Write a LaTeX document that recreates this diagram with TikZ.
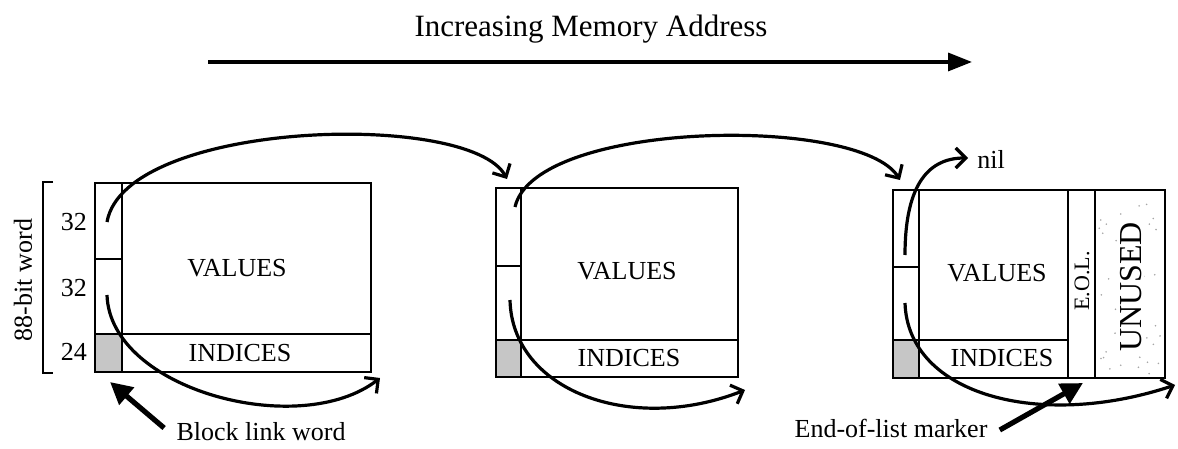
\documentclass[tikz,border=0pt]{standalone}
\usepackage{fontspec}
\setmainfont{Liberation Serif}
\usetikzlibrary{arrows.meta}
\begin{document}
\begin{tikzpicture}[x=0.5pt,y=-0.5pt,
  wall/.style={line width=1.3pt},
  stipple/.style={fill=gray!45},
  link/.style={line width=1.6pt,
    -{Straight Barb[length=5pt,width=10pt,line width=1.6pt]}},
  pointer/.style={line width=2.6pt, -{Triangle[length=11pt,width=11pt]}},
  lbl/.style={font=\fontsize{13}{15}\selectfont, inner sep=0pt},
  title/.style={font=\fontsize{15.5}{18}\selectfont, inner sep=0pt}]
\useasboundingbox (0,0) rectangle (1178,449);

% address direction
\node[title] (ttl) at (591,29) {Increasing Memory Address};
\coordinate (addrA) at (208,62);
\coordinate (addrB) at (972,62);
\draw[line width=1.7pt, -{Triangle[length=12pt,width=9pt]}] (addrA) -- (addrB);

% ---------- block 1 ----------
\fill[stipple] (95,334) rectangle (122,372);
\draw[wall] (95,183) rectangle (371,372);
\draw[wall] (122,183) -- (122,372);
\draw[wall] (95,259) -- (122,259);
\draw[wall] (95,334) -- (371,334);
\node[lbl] (v1) at (237,268) {VALUES};
\node[lbl] (i1) at (240,353) {INDICES};

% word size bracket
\draw[line width=1.3pt] (53,182) -- (43,182) -- (43,373) -- (53,373);
\node[lbl] (s1) at (74,222) {32};
\node[lbl] (s2) at (74,288) {32};
\node[lbl] (s3) at (74,352) {24};
\node[lbl, rotate=90] (w88) at (23,280) {88-bit word};

% ---------- block 2 ----------
\fill[stipple] (496,340) rectangle (521,377);
\draw[wall] (496,188) rectangle (738,377);
\draw[wall] (521,188) -- (521,377);
\draw[wall] (496,266) -- (521,266);
\draw[wall] (496,340) -- (738,340);
\node[lbl] (v2) at (627,271) {VALUES};
\node[lbl] (i2) at (629,358) {INDICES};

% ---------- block 3 ----------
\fill[stipple] (893,340) rectangle (919,378);
% sparse speckle over the unused tail
\pgfmathsetseed{7}
\foreach \k in {1,...,45}{
  \pgfmathsetmacro\dx{1099+62*rnd}
  \pgfmathsetmacro\dy{194+180*rnd}
  \fill[gray!70] (\dx,\dy) circle (0.45pt);
}
\draw[wall] (893,190) rectangle (1165,378);
\draw[wall] (919,190) -- (919,378);
\draw[wall] (893,267) -- (919,267);
\draw[wall] (893,340) -- (1068,340);
\draw[wall] (1068,190) -- (1068,378);
\draw[wall] (1095,190) -- (1095,378);
\node[lbl] (v3) at (997,273) {VALUES};
\node[lbl] (i3) at (1002,358) {INDICES};
\node[lbl, rotate=90, font=\fontsize{11}{13}\selectfont] (eol) at (1082,281) {E.O.L.};
\node[lbl, rotate=90, font=\fontsize{16}{18}\selectfont, fill=white, inner sep=1pt] (unu) at (1131,287) {UNUSED};

% ---------- block links ----------
\coordinate (b1hi) at (107,222);
\coordinate (b1lo) at (107,295);
\coordinate (b2hi) at (515,207);
\coordinate (b2lo) at (510,300);
\coordinate (b3hi) at (905,255);
\coordinate (b3lo) at (905,303);
\coordinate (b2in) at (507,179);
\coordinate (b3in) at (900,180);
\coordinate (b1out) at (380,378);
\coordinate (b2out) at (745,390);
\coordinate (b3out) at (1175,385);
\node[lbl, anchor=west] (nil) at (977,159) {nil};
\coordinate (nilin) at (968,158);

\draw[link] (b1hi) .. controls (125,120) and (470,110) .. (b2in);
\draw[link] (b2hi) .. controls (535,120) and (860,115) .. (b3in);
\draw[link] (b3hi) .. controls (905,190) and (925,158) .. (nilin);
\draw[link] (b1lo) .. controls (110,390) and (300,440) .. (b1out);
\draw[link] (b2lo) .. controls (512,390) and (630,435) .. (b2out);
\draw[link] (b3lo) .. controls (908,395) and (1040,430) .. (b3out);

% ---------- callouts ----------
\node[lbl] (blw) at (261,432) {Block link word};
\node[lbl] (eom) at (891,428) {End-of-list marker};
\coordinate (blwtip) at (110,382);
\coordinate (eomtip) at (1083,383);
\draw[pointer] (blw.west) ++(-12,-4) coordinate (blwtail) -- (blwtip);
\draw[pointer] (eom.east) ++(12,2) coordinate (eomtail) -- (eomtip);
\end{tikzpicture}
\end{document}
